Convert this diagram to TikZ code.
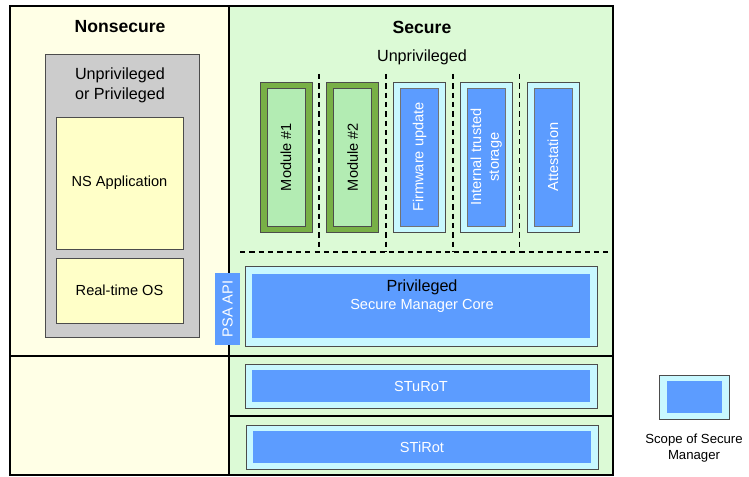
\documentclass[tikz,border=0pt]{standalone}
\usepackage{fontspec}
\setmainfont{Liberation Sans}
\usepackage{tikz}

\definecolor{nsback}{HTML}{FFFFE6}
\definecolor{sback}{HTML}{DCFAD6}
\definecolor{modegray}{HTML}{CCCCCC}
\definecolor{appyellow}{HTML}{FFFFC8}
\definecolor{smblue}{HTML}{5C9CFF}
\definecolor{smcyan}{HTML}{C8F8FF}
\definecolor{moddark}{HTML}{78B046}
\definecolor{modlight}{HTML}{B3ECB3}

\newcommand\fhead{\fontsize{10}{12}\selectfont\bfseries}
\newcommand\fmid{\fontsize{9.2}{11.2}\selectfont}
\newcommand\fsmall{\fontsize{8.3}{10}\selectfont}
\newcommand\ftiny{\fontsize{7.5}{9}\selectfont}

\begin{document}
\begin{tikzpicture}[x=0.02cm, y=-0.02cm,
		frame/.style={draw=black, line width=0.8pt},
		box/.style={draw=black!70, line width=0.4pt, inner sep=0pt},
		scopebox/.style={box, fill=smcyan},
		corebox/.style={inner sep=0pt, fill=smblue, text=white, font=\fsmall},
		modout/.style={box, fill=moddark, minimum width=1.04cm, minimum height=3cm},
		modin/.style={box, fill=modlight, rotate=90, minimum width=2.76cm, minimum height=0.76cm, font=\fsmall, align=center},
		svcout/.style={scopebox, minimum width=1.04cm, minimum height=3cm},
		svcin/.style={box, draw=black!55, fill=smblue, text=white, rotate=90, minimum width=2.76cm, minimum height=0.76cm, font=\fsmall, align=center},
		divider/.style={draw=black, line width=0.8pt, dash pattern=on 3pt off 2.3pt}]
	\useasboundingbox (0,0) rectangle (749,476);

	% Hintergrund der Bereiche
	\fill[nsback] (10,6) rectangle (229,475);
	\fill[sback] (229,6) rectangle (613,475);
	\draw[frame] (10,6) rectangle (613,475);
	\draw[frame] (229,6) -- (229,475);
	\draw[frame] (10,356) -- (613,356);
	\draw[frame] (229,416) -- (613,416);

	% Nonsecure
	\node[font=\fhead] (nsTitle) at (120,27) {Nonsecure};
	\node[box, fill=modegray, minimum width=3.08cm, minimum height=5.66cm] (nsMode) at (122,195.5) {};
	\node[font=\fmid, align=center] (nsModeLabel) at (120,85) {Unprivileged\\or Privileged};
	\node[box, fill=appyellow, minimum width=2.54cm, minimum height=2.64cm, font=\fsmall] (nsApp) at (119.5,183) {NS Application};
	\node[box, fill=appyellow, minimum width=2.54cm, minimum height=1.3cm, font=\fsmall] (rtos) at (119.5,290.5) {Real-time OS};

	% Secure
	\node[font=\fhead] (sTitle) at (422,27) {Secure};
	\node[font=\fmid] (unpriv) at (422,57) {Unprivileged};

	\node[modout] (mod1) at (286,157) {};
	\node[modin] (mod1in) at (mod1) {Module \#1};
	\node[modout] (mod2) at (352.75,157) {};
	\node[modin] (mod2in) at (mod2) {Module \#2};
	\node[svcout] (fwu) at (419.5,157) {};
	\node[svcin] (fwuin) at (fwu) {Firmware update};
	\node[svcout] (its) at (486.25,157) {};
	\node[svcin] (itsin) at (its) {Internal trusted\\storage};
	\node[svcout] (att) at (553,157) {};
	\node[svcin] (attin) at (att) {Attestation};

	% Trennlinien
	\foreach \xd in {319,386,453,519.5}
		\draw[divider] (\xd,74) -- (\xd,252);
	\draw[divider] (240,252) -- (610,252);

	\node[corebox, rotate=90, minimum width=1.44cm, minimum height=0.5cm] (psa) at (227.5,309) {PSA API};

	\node[scopebox, minimum width=7.04cm, minimum height=1.6cm] (priv) at (421,306) {};
	\node[corebox, minimum width=6.76cm, minimum height=1.28cm] (privin) at (priv) {};
	\node[font=\fmid] (privLabel) at (422,287) {Privileged};
	\node[font=\fsmall, text=white] (smcore) at (422,306) {Secure Manager Core};

	\node[scopebox, minimum width=7.04cm, minimum height=0.88cm] (sturot) at (421,386) {};
	\node[corebox, minimum width=6.76cm, minimum height=0.64cm] (sturotin) at (sturot) {STuRoT};

	\node[scopebox, minimum width=7.04cm, minimum height=0.88cm] (stirot) at (422,447) {};
	\node[corebox, minimum width=6.76cm, minimum height=0.64cm] (stirotin) at (stirot) {STiRot};

	% Legende
	\node[scopebox, minimum width=1.4cm, minimum height=0.88cm] (legend) at (694,397) {};
	\node[corebox, minimum width=1.1cm, minimum height=0.64cm] (legendin) at (legend) {};
	\node[font=\ftiny, align=center] (legendText) at (694,448) {Scope of Secure\\Manager};
\end{tikzpicture}
\end{document}
